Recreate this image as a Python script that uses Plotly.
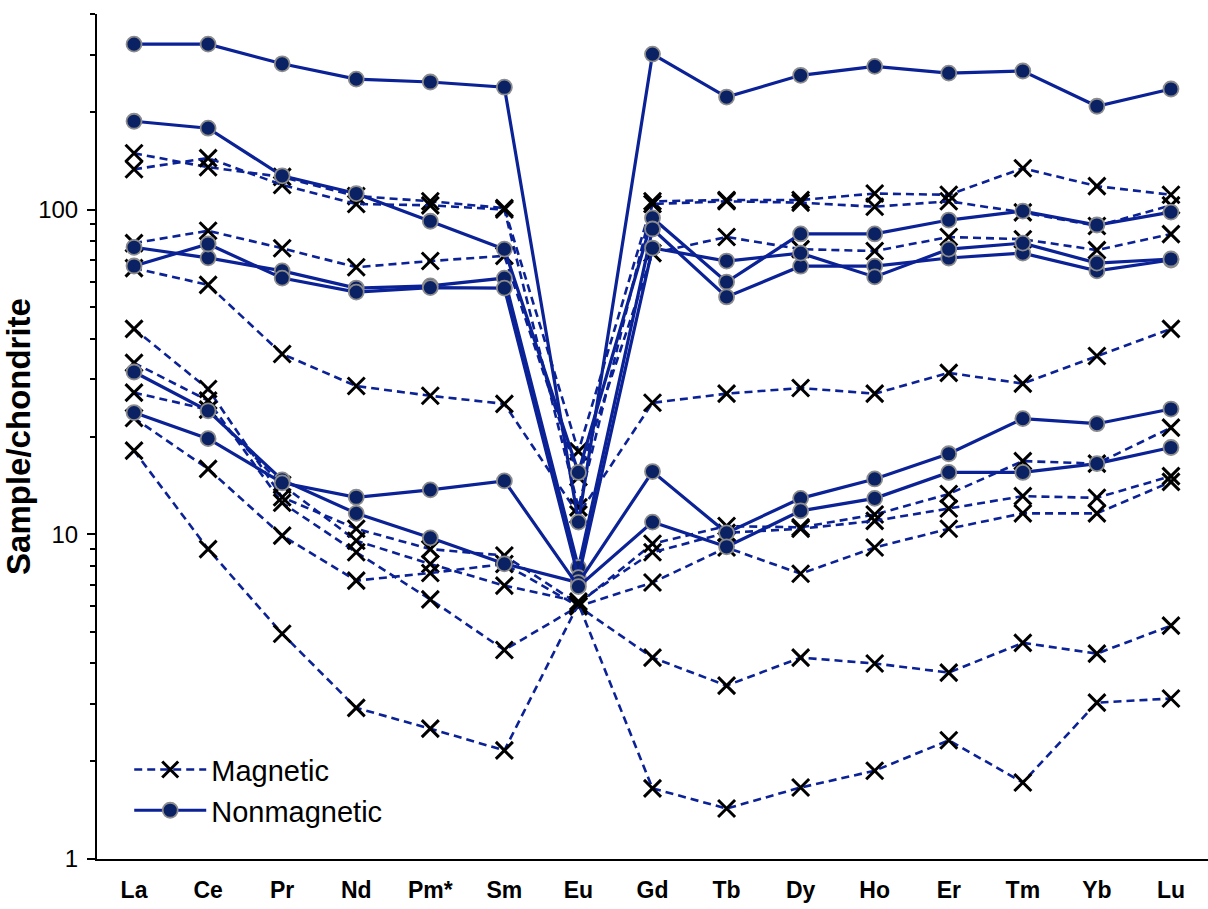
import math
import plotly.graph_objects as go

categories = ["La", "Ce", "Pr", "Nd", "Pm*", "Sm", "Eu", "Gd", "Tb", "Dy", "Ho", "Er", "Tm", "Yb", "Lu"]

# Magnetic fractions (dashed, x markers)
mag_1 = [149, 135, 126, 110, 106, 101, 18.0, 106, 107, 107, 112, 111, 134, 118, 111]
mag_2 = [133, 144, 119, 104, 103, 100, 12.1, 104, 106, 105, 102, 106, 98, 89, 103]
mag_3 = [78.8, 86, 76, 66.4, 69.4, 72, 15.0, 73.4, 82.3, 75.5, 74.5, 82.3, 81, 75, 84]
mag_4 = [66, 58.6, 35.9, 28.6, 26.7, 25.2, 11.5, 25.4, 27.1, 28.2, 27.1, 31.4, 29.1, 35.4, 42.9]
mag_5 = [42.9, 28.0, 13.0, 10.4, 9.0, 8.6, 6.1, 9.35, 10.6, 10.5, 11.5, 13.3, 16.8, 16.5, 21.3]
mag_6 = [33.7, 25.8, 12.5, 8.8, 6.3, 4.4, 6.0, 7.1, 9.1, 7.56, 9.1, 10.4, 11.6, 11.6, 14.5]
mag_7 = [27.3, 24.2, 14.2, 9.55, 8.1, 6.95, 6.2, 8.8, 10.1, 10.4, 11.0, 12.0, 13.1, 12.95, 15.1]
mag_8 = [22.8, 15.9, 9.9, 7.2, 7.6, 8.1, 6.0, 4.17, 3.42, 4.17, 4.0, 3.75, 4.63, 4.29, 5.23]
mag_9 = [18.1, 9.0, 4.94, 2.92, 2.52, 2.16, 6.1, 1.65, 1.43, 1.66, 1.87, 2.32, 1.72, 3.03, 3.12]

# Nonmagnetic fractions (solid, circle markers)
non_1 = [323, 323, 281, 252, 247, 238, 10.9, 301, 222, 259, 276, 263, 267, 208, 235]
non_2 = [187, 178, 127, 112, 92, 75.5, 15.5, 94.2, 59.8, 84.1, 84.1, 92.8, 98.9, 89.6, 98.2]
non_3 = [76.5, 71, 64.7, 57.3, 58.2, 61.5, 7.9, 87.1, 53.8, 66.9, 66.9, 70.9, 73.4, 64.7, 69.9]
non_4 = [67, 78.3, 61.5, 55.7, 57.5, 57.3, 7.35, 76.1, 69.4, 73.4, 62.0, 75.5, 78.8, 68.4, 70.4]
non_5 = [31.6, 24.0, 14.7, 11.6, 9.75, 8.11, 7.1, 15.6, 10.1, 12.9, 14.8, 17.7, 22.7, 21.9, 24.3]
non_6 = [23.7, 19.7, 14.4, 13.0, 13.7, 14.6, 6.9, 10.9, 9.15, 11.8, 12.9, 15.5, 15.5, 16.5, 18.5]

magnetic = [mag_1, mag_2, mag_3, mag_4, mag_5, mag_6, mag_7, mag_8, mag_9]
nonmagnetic = [non_1, non_2, non_3, non_4, non_5, non_6]

LINE_BLUE = "#0B2196"
FONT = "Arial, Liberation Sans, sans-serif"

fig = go.Figure()

for i, s in enumerate(magnetic):
    fig.add_trace(go.Scatter(
        x=categories, y=s, mode="lines+markers",
        name="Magnetic", legendgroup="mag", showlegend=(i == 0), legendrank=1,
        line=dict(color=LINE_BLUE, width=2.6, dash="8px,5px"),
        marker=dict(symbol="x-thin", size=17, color="black",
                    line=dict(color="black", width=3)),
    ))

for i, s in enumerate(nonmagnetic):
    fig.add_trace(go.Scatter(
        x=categories, y=s, mode="lines+markers",
        name="Nonmagnetic", legendgroup="non", showlegend=(i == 0), legendrank=2,
        line=dict(color=LINE_BLUE, width=3.2),
        marker=dict(symbol="circle", size=15, color="#0A2163",
                    line=dict(color="#8C8C8C", width=1.8)),
    ))

minor_vals = [v * m for m in (1, 10, 100) for v in range(2, 10) if v * m <= 400]

fig.update_layout(
    width=1208, height=909,
    margin=dict(l=97, r=0, t=14, b=50),
    plot_bgcolor="white", paper_bgcolor="white",
    font=dict(family=FONT, color="black"),
    showlegend=True,
    legend=dict(
        x=0.029, y=0.027, xanchor="left", yanchor="bottom",
        bgcolor="rgba(0,0,0,0)", font=dict(size=29, family=FONT, color="black"),
        itemwidth=72, tracegroupgap=0, traceorder="normal",
    ),
    xaxis=dict(
        type="category", categoryorder="array", categoryarray=categories,
        range=[-0.5, 14.5], showline=True, linecolor="black", linewidth=2,
        ticks="", showgrid=False, zeroline=False,
        tickfont=dict(size=23, family=FONT, color="black", weight="bold"),
        ticklabelstandoff=9,
    ),
    yaxis=dict(
        type="log", range=[0, math.log10(400)],
        tickmode="array", tickvals=[1, 10, 100], ticktext=["1", "10", "100"],
        ticks="outside", ticklen=8, tickwidth=1.5, tickcolor="black",
        showline=True, linecolor="black", linewidth=2,
        showgrid=False, zeroline=False,
        tickfont=dict(size=24, family=FONT, color="black"),
        ticklabelstandoff=4,
        minor=dict(tickmode="array", tickvals=minor_vals, ticks="outside",
                   ticklen=5, tickwidth=1.5, tickcolor="black", showgrid=False),
        title=dict(text="Sample/chondrite", standoff=6,
                   font=dict(size=33, family=FONT, color="black", weight="bold")),
    ),
)

fig.write_html("out.html")
